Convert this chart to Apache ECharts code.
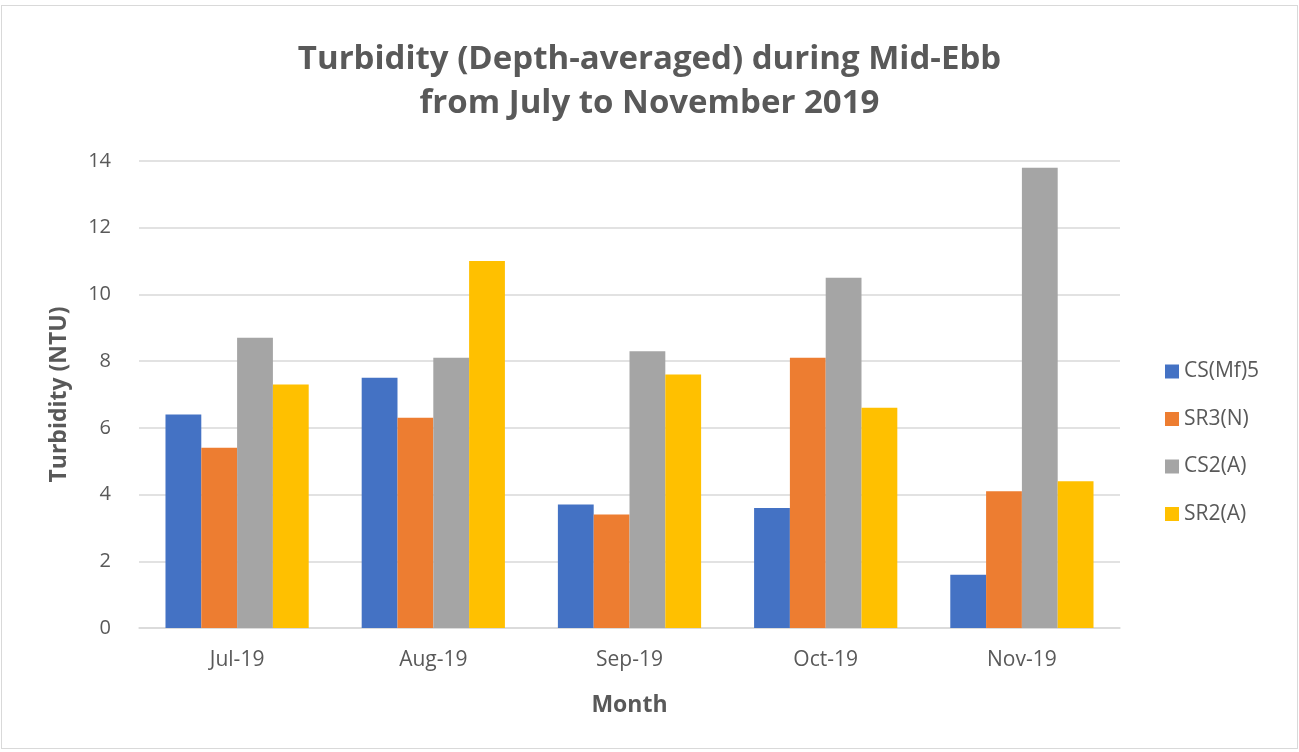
<!DOCTYPE html>
<html><head><meta charset="utf-8">
<script src="https://cdn.jsdelivr.net/npm/echarts@6/dist/echarts.min.js"></script>
<style>html,body{margin:0;padding:0;background:#fff}#c{box-sizing:border-box;border:1px solid #d9d9d9;position:absolute;left:1px;top:5px;width:1297px;height:744px}</style>
</head><body><div id="c"></div>
<script>
const categories = ['Jul-19','Aug-19','Sep-19','Oct-19','Nov-19'];
const seriesNames = ['CS(Mf)5','SR3(N)','CS2(A)','SR2(A)'];
const csMf5 = [6.4, 7.5, 3.7, 3.6, 1.6];
const sr3N = [5.4, 6.3, 3.4, 8.1, 4.1];
const cs2A = [8.7, 8.1, 8.3, 10.5, 13.8];
const sr2A = [7.3, 11.0, 7.6, 6.6, 4.4];
const colors = ['#4472C4','#ED7D31','#A5A5A5','#FFC000'];
const values = [csMf5, sr3N, cs2A, sr2A];
const font = '"Open Sans", "Noto Sans", sans-serif';
const chart = echarts.init(document.getElementById('c'));
chart.setOption({
  animation:false,
  title:{text:'Turbidity (Depth-averaged) during Mid-Ebb\nfrom July to November 2019',left:'center',top:27,
    textStyle:{fontFamily:font,fontSize:33,fontWeight:'bold',color:'#595959',lineHeight:44}},
  legend:{orient:'vertical',left:1158,top:350,itemWidth:14,itemHeight:14,itemGap:26.5,icon:'rect',
    textStyle:{fontFamily:font,fontSize:21,color:'#595959'}},
  grid:{left:137,right:177,top:155,bottom:120},
  xAxis:{type:'category',data:categories,
    axisLine:{lineStyle:{color:'#d9d9d9',width:1.5}},axisTick:{show:false},
    axisLabel:{fontFamily:font,fontSize:21,color:'#595959',margin:22},
    name:'Month',nameLocation:'middle',nameGap:66,
    nameTextStyle:{fontFamily:font,fontSize:23,fontWeight:'bold',color:'#595959'}},
  yAxis:{type:'value',min:0,max:14,interval:2,
    axisLine:{show:false},axisTick:{show:false},
    splitLine:{lineStyle:{color:'#d9d9d9',width:1.5}},
    axisLabel:{fontFamily:font,fontSize:20,color:'#595959',margin:28},
    name:'Turbidity (NTU)',nameLocation:'middle',nameGap:68,
    nameTextStyle:{fontFamily:font,fontSize:23,fontWeight:'bold',color:'#595959'}},
  series: seriesNames.map((n,i)=>({name:n,type:'bar',data:values[i],barGap:'0%',barCategoryGap:'27%',
    itemStyle:{color:colors[i]}}))
});
</script></body></html>
